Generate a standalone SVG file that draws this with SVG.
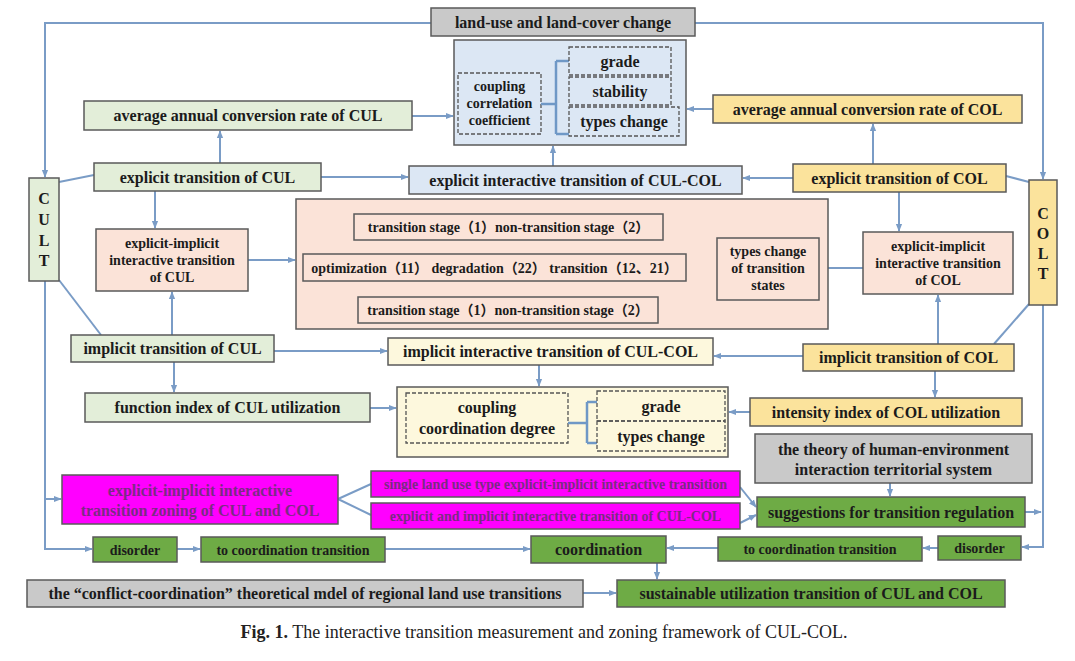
<svg xmlns="http://www.w3.org/2000/svg" width="1075" height="661" viewBox="0 0 1075 661">
<style>
.b{stroke:#5a5a5a;stroke-width:1.5}
.cul{fill:#e3eed9}.col{fill:#fbe39c}.blue{fill:#dce7f4}.pink{fill:#fbe3d8}.ly{fill:#fdf8dd}
.gray{fill:#c9c9c9}.mag{fill:#ff00ff}.grn{fill:#6eab45}
.dash{fill:none;stroke:#555;stroke-width:1.3;stroke-dasharray:4 2}
text{font-family:"Liberation Serif","Noto Sans CJK SC",serif;font-weight:bold;fill:#1b1b1b;text-anchor:middle}
.s16{font-size:16px}.s14{font-size:14px}
.mt{fill:#7b2b83}
.c{stroke:#7a9cc6;stroke-width:2;fill:none}
.br{stroke:#6f98c6;stroke-width:2.5;fill:none}
</style>
<defs>
<marker id="ah" viewBox="0 0 10 10" refX="9" refY="5" markerWidth="4" markerHeight="4" orient="auto">
<path d="M0,1 L10,5 L0,9 z" fill="#7a9cc6"/>
</marker>
</defs>
<rect width="1075" height="661" fill="#ffffff"/>

<g id="connectors">
<path class="c" d="M431,23 H45 V177" marker-end="url(#ah)"/>
<path class="c" d="M695,23 H1043 V179" marker-end="url(#ah)"/>
<path class="c" d="M412,116 H453" marker-end="url(#ah)"/>
<path class="c" d="M713,109 H687" marker-end="url(#ah)"/>
<path class="c" d="M220,163 V131" marker-end="url(#ah)"/>
<path class="c" d="M873,164 V124" marker-end="url(#ah)"/>
<path class="c" d="M553,166 V146" marker-end="url(#ah)"/>
<path class="c" d="M321,177 H408" marker-end="url(#ah)"/>
<path class="c" d="M793,178 H743" marker-end="url(#ah)"/>
<path class="c" d="M59,182 L94,175"/>
<path class="c" d="M1006,176 L1029,182"/>
<path class="c" d="M155,191 V228" marker-end="url(#ah)"/>
<path class="c" d="M899,192 V231" marker-end="url(#ah)"/>
<path class="c" d="M248,260 H295" marker-end="url(#ah)"/>
<path class="c" d="M863,268 H820" marker-end="url(#ah)"/>
<path class="c" d="M686,268 H716" marker-end="url(#ah)"/>
<path class="c" d="M492,240 V253" marker-end="url(#ah)"/>
<path class="c" d="M492,297 V282" marker-end="url(#ah)"/>
<path class="c" d="M172,335 V292" marker-end="url(#ah)"/>
<path class="c" d="M938,344 V295" marker-end="url(#ah)"/>
<path class="c" d="M59,280 L101,335"/>
<path class="c" d="M1029,304 L994,344"/>
<path class="c" d="M274,351 H387" marker-end="url(#ah)"/>
<path class="c" d="M803,356 H714" marker-end="url(#ah)"/>
<path class="c" d="M174,362 V392" marker-end="url(#ah)"/>
<path class="c" d="M539,365 V386" marker-end="url(#ah)"/>
<path class="c" d="M935,371 V397" marker-end="url(#ah)"/>
<path class="c" d="M370,408 H396" marker-end="url(#ah)"/>
<path class="c" d="M750,412 H729" marker-end="url(#ah)"/>
<path class="c" d="M890,483 V496" marker-end="url(#ah)"/>
<path class="c" d="M45,281 V549 H92" marker-end="url(#ah)"/>
<path class="c" d="M45,499 H61" marker-end="url(#ah)"/>
<path class="c" d="M1043,305 V547 H1022" marker-end="url(#ah)"/>
<path class="c" d="M1025,512 H1041" marker-end="url(#ah)"/>
<path class="c" d="M338,499 L371,484 M338,499 L371,515"/>
<path class="c" d="M740,487 L756,507" marker-end="url(#ah)"/>
<path class="c" d="M740,523 L756,515" marker-end="url(#ah)"/>
<path class="c" d="M177,549 H200" marker-end="url(#ah)"/>
<path class="c" d="M385,549 H530" marker-end="url(#ah)"/>
<path class="c" d="M938,548 H923" marker-end="url(#ah)"/>
<path class="c" d="M718,548 H667" marker-end="url(#ah)"/>
<path class="c" d="M657,563 V579" marker-end="url(#ah)"/>
<path class="c" d="M583,593 H616" marker-end="url(#ah)"/>
</g>

<g id="n-lulc"><rect class="b gray" x="431" y="8" width="264" height="28"/><text class="s16" x="563" y="27.5">land-use and land-cover change</text></g>

<g id="n-ccc">
<rect class="b blue" x="454" y="40" width="232" height="105"/>
<rect class="dash" x="458" y="73" width="83" height="61"/>
<text class="s14" x="499.5" y="91">coupling</text>
<text class="s14" x="499.5" y="108">correlation</text>
<text class="s14" x="499.5" y="125">coefficient</text>
<path class="br" d="M541,104 H556 M556,61 V134 M556,61 H569 M556,134 H569"/>
<rect class="dash" x="569" y="47" width="102" height="28"/><text class="s16" x="620" y="66.5">grade</text>
<rect class="dash" x="569" y="77" width="102" height="28"/><text class="s16" x="620" y="96.5">stability</text>
<rect class="dash" x="569" y="107" width="110" height="29"/><text class="s16" x="624" y="127">types change</text>
</g>

<g id="n-avgcul"><rect class="b cul" x="84" y="101" width="328" height="29"/><text class="s16" x="248" y="121">average annual conversion rate of CUL</text></g>
<g id="n-avgcol"><rect class="b col" x="713" y="95" width="309" height="28"/><text class="s16" x="867.5" y="114.5">average annual conversion rate of COL</text></g>
<g id="n-expcul"><rect class="b cul" x="94" y="163" width="227" height="28"/><text class="s16" x="207.5" y="182.5">explicit transition of CUL</text></g>
<g id="n-expint"><rect class="b blue" x="409" y="166" width="333" height="28"/><text class="s16" x="575.5" y="185.5">explicit interactive transition of CUL-COL</text></g>
<g id="n-expcol"><rect class="b col" x="793" y="164" width="213" height="28"/><text class="s16" x="899.5" y="183.5">explicit transition of COL</text></g>

<g id="n-cult"><rect class="b cul" x="29" y="178" width="30" height="103"/>
<text class="s16" x="44" y="204">C</text><text class="s16" x="44" y="225">U</text><text class="s16" x="44" y="246">L</text><text class="s16" x="44" y="266">T</text></g>
<g id="n-colt"><rect class="b col" x="1029" y="180" width="28" height="125"/>
<text class="s16" x="1043" y="219">C</text><text class="s16" x="1043" y="239">O</text><text class="s16" x="1043" y="259">L</text><text class="s16" x="1043" y="279">T</text></g>

<g id="n-eicul"><rect class="b pink" x="96" y="229" width="152" height="62"/>
<text class="s14" x="172" y="248">explicit-implicit</text><text class="s14" x="172" y="265">interactive transition</text><text class="s14" x="172" y="282">of CUL</text></g>

<g id="n-states">
<rect class="b pink" x="296" y="199" width="532" height="130"/>
<rect class="b pink" x="354" y="214" width="309" height="26"/><text class="s14" x="508.5" y="232">transition stage（1）non-transition stage（2）</text>
<rect class="b pink" x="303" y="254" width="383" height="27"/><text class="s14" x="494.5" y="272.5">optimization（11） degradation（22） transition（12、21）</text>
<rect class="b pink" x="358" y="297" width="300" height="26"/><text class="s14" x="508" y="315">transition stage（1）non-transition stage（2）</text>
<rect class="b pink" x="717" y="238" width="102" height="62"/>
<text class="s14" x="768" y="256">types change</text><text class="s14" x="768" y="273">of transition</text><text class="s14" x="768" y="290">states</text>
</g>

<g id="n-eicol"><rect class="b pink" x="863" y="232" width="150" height="62"/>
<text class="s14" x="938" y="251">explicit-implicit</text><text class="s14" x="938" y="268">interactive transition</text><text class="s14" x="938" y="285">of COL</text></g>

<g id="n-impcul"><rect class="b cul" x="71" y="335" width="203" height="27"/><text class="s16" x="172.5" y="354">implicit transition of CUL</text></g>
<g id="n-impint"><rect class="b ly" x="388" y="338" width="325" height="27"/><text class="s16" x="550.5" y="357">implicit interactive transition of CUL-COL</text></g>
<g id="n-impcol"><rect class="b col" x="803" y="344" width="211" height="27"/><text class="s16" x="908.5" y="363">implicit transition of COL</text></g>

<g id="n-func"><rect class="b cul" x="85" y="393" width="285" height="29"/><text class="s16" x="227.5" y="413">function index of CUL utilization</text></g>

<g id="n-ccd">
<rect class="b ly" x="397" y="387" width="331" height="70"/>
<rect class="dash" x="406" y="393" width="162" height="50"/>
<text class="s16" x="487" y="413">coupling</text><text class="s16" x="487" y="434">coordination degree</text>
<path class="br" d="M568,423 H587 M587,402 V443 M587,402 H597 M587,443 H597"/>
<rect class="dash" x="597" y="391" width="128" height="30"/><text class="s16" x="661" y="411.5">grade</text>
<rect class="dash" x="597" y="421" width="128" height="30"/><text class="s16" x="661" y="441.5">types change</text>
</g>

<g id="n-intens"><rect class="b col" x="750" y="398" width="272" height="28"/><text class="s16" x="886" y="417.5">intensity index of COL utilization</text></g>
<g id="n-theory"><rect class="b gray" x="755" y="434" width="277" height="49"/>
<text class="s16" x="893.5" y="455">the theory of human-environment</text><text class="s16" x="893.5" y="475">interaction territorial system</text></g>

<g id="n-zoning"><rect class="b mag" x="62" y="475" width="276" height="49"/>
<text class="s16 mt" x="200" y="496">explicit-implicit  interactive</text><text class="s16 mt" x="200" y="516">transition  zoning of CUL and COL</text></g>
<g id="n-single"><rect class="b mag" x="371" y="471" width="369" height="26"/><text class="s14 mt" x="555.5" y="489">single land use type explicit-implicit interactive transition</text></g>
<g id="n-eandi"><rect class="b mag" x="371" y="503" width="369" height="26"/><text class="s14 mt" x="555.5" y="521">explicit and implicit interactive transition of CUL-COL</text></g>
<g id="n-sugg"><rect class="b grn" x="757" y="497" width="268" height="30"/><text class="s16" x="891" y="517.5">suggestions for transition regulation</text></g>

<g id="n-disl"><rect class="b grn" x="93" y="537" width="84" height="25"/><text class="s14" x="135" y="554.5">disorder</text></g>
<g id="n-tcl"><rect class="b grn" x="201" y="537" width="184" height="25"/><text class="s14" x="293" y="554.5">to coordination transition</text></g>
<g id="n-coord"><rect class="b grn" x="531" y="536" width="135" height="27"/><text class="s16" x="598.5" y="555">coordination</text></g>
<g id="n-tcr"><rect class="b grn" x="718" y="537" width="204" height="24"/><text class="s14" x="820" y="554">to coordination transition</text></g>
<g id="n-disr"><rect class="b grn" x="938" y="536" width="83" height="24"/><text class="s14" x="979.5" y="553">disorder</text></g>

<g id="n-conflict"><rect class="b gray" x="27" y="580" width="556" height="27"/><text class="s16" x="305" y="598.5">the “conflict-coordination” theoretical mdel of regional land use transitions</text></g>
<g id="n-sust"><rect class="b grn" x="617" y="580" width="388" height="27"/><text class="s16" x="811" y="598.5">sustainable utilization transition of CUL and COL</text></g>

<text x="544" y="638" style="font-size:18px;font-weight:normal;fill:#222"><tspan font-weight="bold">Fig. 1.</tspan> The interactive transition measurement and zoning framework of CUL-COL.</text>
</svg>
